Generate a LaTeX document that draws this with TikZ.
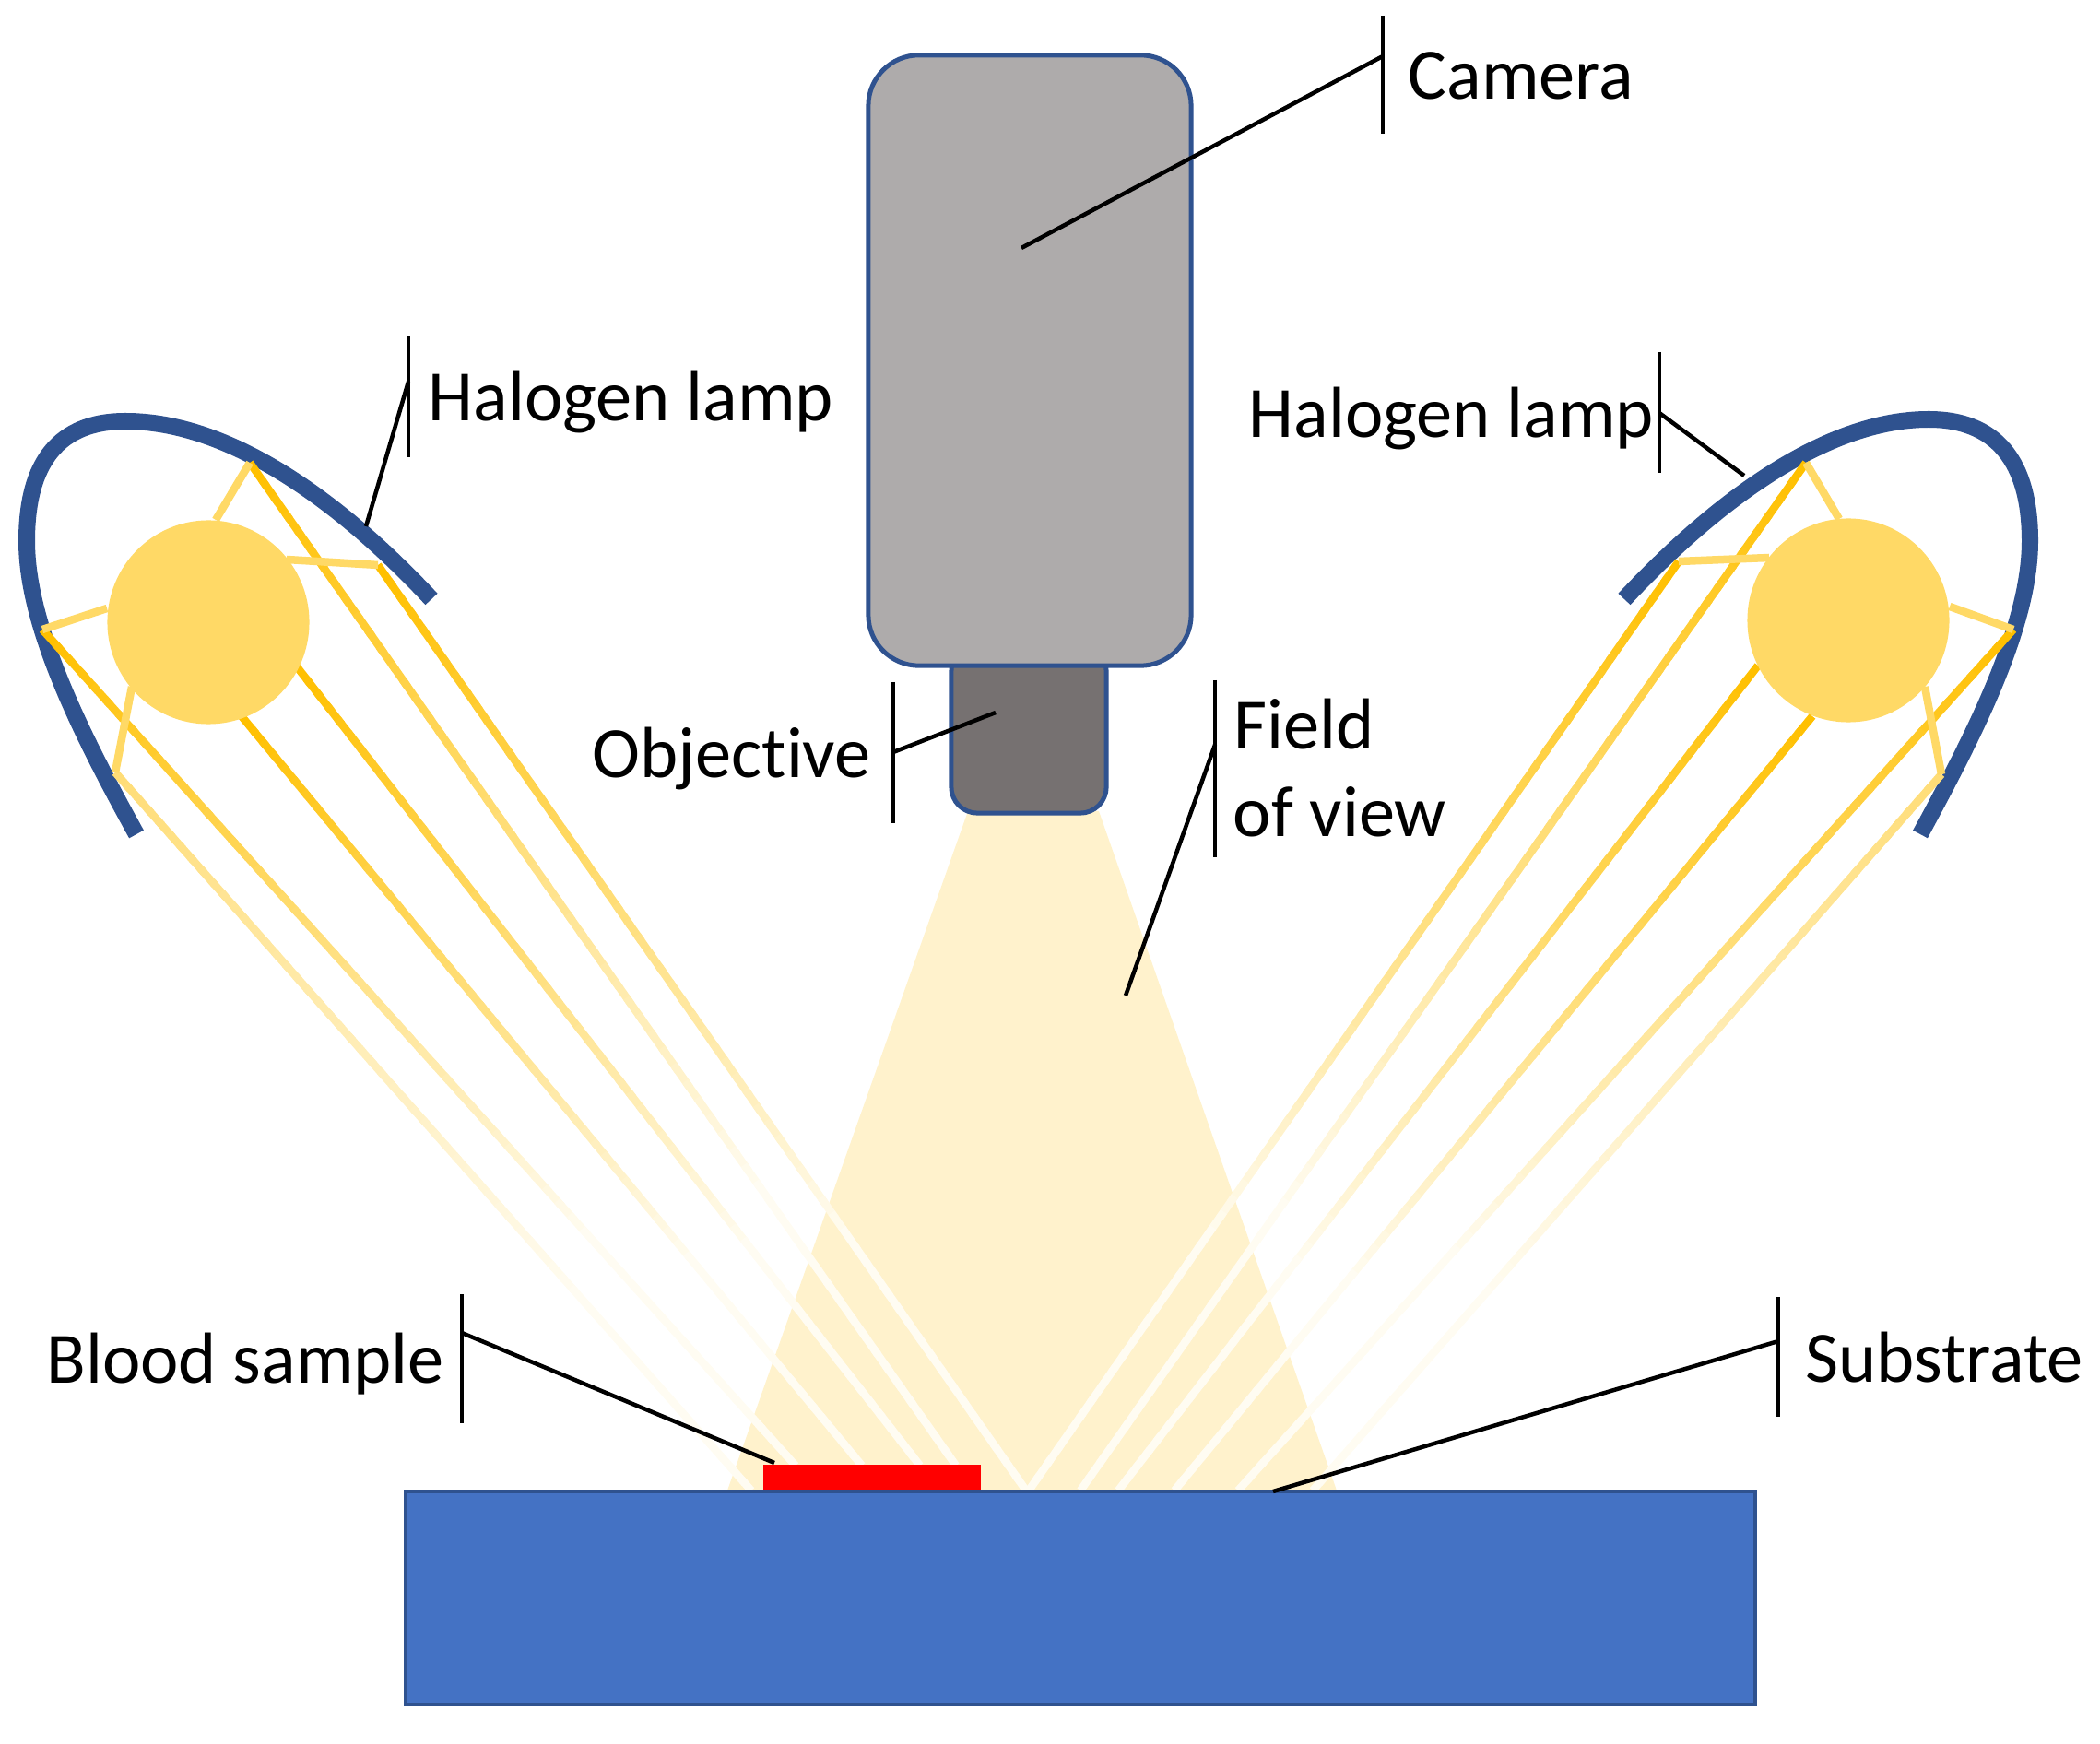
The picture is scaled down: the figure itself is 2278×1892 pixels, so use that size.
\documentclass[tikz,border=0pt]{standalone}
\usepackage{fontspec}
\setmainfont{Carlito}[Ligatures={NoRequired,NoCommon,NoContextual}]
\usetikzlibrary{calc, shapes.geometric}

\definecolor{lampfill}{HTML}{FFD966}
\definecolor{raydeep}{HTML}{FFC000}
\definecolor{raypale}{HTML}{FFDD77}
\definecolor{rayend}{HTML}{FFFCF2}
\definecolor{fovfill}{HTML}{FFF2CC}
\definecolor{edgeblue}{HTML}{2F528F}
\definecolor{subblue}{HTML}{4472C4}
\definecolor{camgray}{HTML}{AEABAB}
\definecolor{objgray}{HTML}{767171}

\newcommand{\lightray}[3]{%
  \foreach \k in {0,...,59} {
    \pgfmathsetmacro{\pct}{min(100,100*\k/43)}
    \pgfmathsetmacro{\fromt}{\k/60}
    \pgfmathsetmacro{\uptot}{min(1,(\k+1.4)/60)}
    \draw[ray, color=rayend!\pct!#1] ($(#2)!\fromt!(#3)$) -- ($(#2)!\uptot!(#3)$);
  }
}

\begin{document}
\begin{tikzpicture}[
  x=0.01cm, y=-0.01cm,
  ray/.style={line width=0.085cm},
  stub/.style={line width=0.085cm, lampfill},
  bulb/.style={ellipse, fill=lampfill, inner sep=0pt},
  reflector/.style={line width=0.18cm, edgeblue},
  housing/.style={rectangle, draw=edgeblue, line width=0.05cm, inner sep=0pt},
  tagtext/.style={anchor=base west, inner sep=0pt, font=\fontsize{22.3}{26}\selectfont},
  leader/.style={line width=0.045cm, black}
]

\useasboundingbox (0,0) rectangle (2278,1892);

\fill[fovfill] (1050,880) -- (1192,880) -- (1450,1617) -- (789,1617) -- cycle;

\draw[reflector] (148,905) .. controls (90,800) and (29,680) .. (29,587)
  .. controls (29,500) and (65,457) .. (136,457)
  .. controls (250,457) and (370,545) .. (468,650);
\draw[reflector] (2083,905) .. controls (2140,800) and (2202,680) .. (2202,587)
  .. controls (2202,500) and (2165,455) .. (2092,455)
  .. controls (1980,455) and (1860,545) .. (1762,650);

\coordinate (lf) at (125,838);
\coordinate (le) at (46,683);
\coordinate (lc) at (262,777);
\coordinate (ld) at (321,722);
\coordinate (lb) at (271,502);
\coordinate (la) at (410,613);
\coordinate (lfend) at (815,1617);
\coordinate (leend) at (863,1590);
\coordinate (lcend) at (935,1590);
\coordinate (ldend) at (998,1590);
\coordinate (lbend) at (1037,1590);
\coordinate (laend) at (1113,1617);

\coordinate (rf) at (2106,840);
\coordinate (re) at (2184,683);
\coordinate (rc) at (1966,777);
\coordinate (rd) at (1907,722);
\coordinate (rb) at (1959,502);
\coordinate (ra) at (1821,609);
\coordinate (rfend) at (1424,1617);
\coordinate (reend) at (1343,1617);
\coordinate (rcend) at (1274,1617);
\coordinate (rdend) at (1213,1617);
\coordinate (rbend) at (1172,1617);
\coordinate (raend) at (1116,1617);

\lightray{raypale}{lf}{lfend}
\lightray{raydeep}{le}{leend}
\lightray{raydeep}{lc}{lcend}
\lightray{raydeep}{ld}{ldend}
\lightray{raydeep}{lb}{lbend}
\lightray{raydeep}{la}{laend}
\lightray{raypale}{rf}{rfend}
\lightray{raydeep}{re}{reend}
\lightray{raydeep}{rc}{rcend}
\lightray{raydeep}{rd}{rdend}
\lightray{raydeep}{rb}{rbend}
\lightray{raydeep}{ra}{raend}

\node[bulb, minimum width=2.19cm, minimum height=2.21cm] (lampL) at (226,675) {};
\node[bulb, minimum width=2.19cm, minimum height=2.21cm] (lampR) at (2005,673) {};

\draw[stub] (234,564) -- (lb);
\draw[stub] (311,607) -- (la);
\draw[stub] (116,660) -- (le);
\draw[stub] (143,745) -- (lf);
\draw[stub] (1995,563) -- (rb);
\draw[stub] (1919,605) -- (ra);
\draw[stub] (2115,658) -- (re);
\draw[stub] (2088,745) -- (rf);

\node[housing, fill=objgray, rounded corners=0.28cm, minimum width=1.68cm, minimum height=1.82cm] (objective) at (1116,791) {};
\node[housing, fill=camgray, rounded corners=0.55cm, minimum width=3.5cm, minimum height=6.62cm] (camera) at (1117,391) {};
\node[draw=edgeblue, line width=0.04cm, fill=subblue, inner sep=0pt, minimum width=14.64cm, minimum height=2.31cm] (substrate) at (1172,1733.5) {};
\node[fill=red, inner sep=0pt, minimum width=2.36cm, minimum height=0.27cm] (sample) at (946,1602.5) {};

\node[tagtext] (camlabel) at (1527,108) {Camera};
\node[tagtext] (lamplabelL) at (464,456.5) {Halogen lamp};
\node[tagtext] (lamplabelR) at (1354,475) {Halogen lamp};
\node[tagtext] (objlabel) at (642,844) {Objective};
\node[tagtext] (fieldlabel) at (1338,812.5) {Field};
\node[tagtext] (viewlabel) at (1337,908) {of view};
\node[tagtext] (bloodlabel) at (50,1500) {Blood sample};
\node[tagtext] (sublabel) at (1958,1499.5) {Substrate};

\coordinate (camtop) at (1500,17);
\coordinate (cambot) at (1500,145);
\coordinate (camjoin) at (1500,61);
\coordinate (camtip) at (1108,269);
\coordinate (lamptopL) at (443,365);
\coordinate (lampbotL) at (443,496);
\coordinate (lampjoinL) at (443,414);
\coordinate (lamptipL) at (397,571);
\coordinate (lamptopR) at (1800,382);
\coordinate (lampbotR) at (1800,513);
\coordinate (lampjoinR) at (1800,448);
\coordinate (lamptipR) at (1892,516);
\coordinate (objtop) at (969,740);
\coordinate (objbot) at (969,893);
\coordinate (objjoin) at (969,816);
\coordinate (objtip) at (1080,773);
\coordinate (fovtop) at (1318,738);
\coordinate (fovbot) at (1318,930);
\coordinate (fovjoin) at (1318,808);
\coordinate (fovtip) at (1221,1080);
\coordinate (bloodtop) at (501,1404);
\coordinate (bloodbot) at (501,1544);
\coordinate (bloodjoin) at (501,1446);
\coordinate (bloodtip) at (840,1587);
\coordinate (subtop) at (1929,1407);
\coordinate (subbot) at (1929,1537);
\coordinate (subjoin) at (1929,1455);
\coordinate (subtip) at (1381,1618);

\draw[leader] (camtop) -- (cambot);
\draw[leader] (camjoin) -- (camtip);
\draw[leader] (lamptopL) -- (lampbotL);
\draw[leader] (lampjoinL) -- (lamptipL);
\draw[leader] (lamptopR) -- (lampbotR);
\draw[leader] (lampjoinR) -- (lamptipR);
\draw[leader] (objtop) -- (objbot);
\draw[leader] (objjoin) -- (objtip);
\draw[leader] (fovtop) -- (fovbot);
\draw[leader] (fovjoin) -- (fovtip);
\draw[leader] (bloodtop) -- (bloodbot);
\draw[leader] (bloodjoin) -- (bloodtip);
\draw[leader] (subtop) -- (subbot);
\draw[leader] (subjoin) -- (subtip);

\end{tikzpicture}
\end{document}
